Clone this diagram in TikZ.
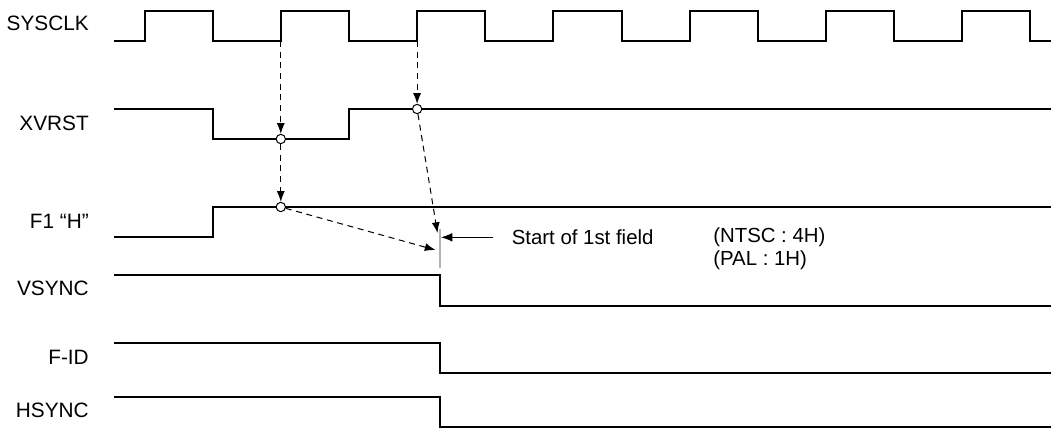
\documentclass[tikz,border=0pt]{standalone}
\usepackage{fontspec}
\setmainfont{Liberation Sans}
\usetikzlibrary{arrows.meta}
\tikzset{
  signal/.style={line width=1.5pt, line join=miter},
  dasharrow/.style={line width=0.75pt, dash pattern=on 4.5pt off 3.5pt, -{Latex[length=8pt,width=6pt]}},
  hollow/.style={circle, draw, line width=0.75pt, fill=white, inner sep=0pt, minimum size=7pt},
  signame/.style={anchor=base east, inner sep=0pt, font=\fontsize{15.6}{18}\selectfont},
  note/.style={anchor=base west, inner sep=0pt, font=\fontsize{15.3}{18}\selectfont}
}
\begin{document}
\begin{tikzpicture}[x=0.75pt, y=-0.75pt]
        \useasboundingbox (0,0) rectangle (1051,428);
        % Nombres de las senales
        \node[signame] (nsysclk) at (89,30.7) {SYSCLK};
        \node[signame] (nxvrst) at (89,130.7) {XVRST};
        \node[signame] (nfone) at (89,228.3) {F1 “H”};
        \node[signame] (nvsync) at (89,295) {VSYNC};
        \node[signame] (nfid) at (89,364) {F-ID};
        \node[signame] (nhsync) at (89,417.3) {HSYNC};
        % Formas de onda
        \draw[signal] (114,41) -- (144.5,41)
            foreach \k in {0,...,5} { -- ++(0,-30) -- ++(68.15,0) -- ++(0,30) -- ++(68.15,0) }
            -- ++(0,-30) -- ++(68.15,0) -- ++(0,30) -- (1051,41);
        \draw[signal] (114,109) -- (212.6,109) -- (212.6,139) -- (348.9,139) -- (348.9,109) -- (1051,109);
        \draw[signal] (114,237) -- (212.6,237) -- (212.6,207) -- (1051,207);
        \draw[signal] (114,275) -- (440,275) -- (440,306) -- (1051,306);
        \draw[signal] (114,343) -- (440,343) -- (440,373) -- (1051,373);
        \draw[signal] (114,397) -- (440,397) -- (440,427) -- (1051,427);
        % Flancos y muestreo
        \coordinate (eone) at (280.8,41);
        \coordinate (etwo) at (417.1,41);
        \coordinate (sone) at (437.5,233);
        \coordinate (stwo) at (435.5,250);
        \node[hollow] (cone) at (280.8,139) {};
        \node[hollow] (ctwo) at (417.1,109) {};
        \node[hollow] (cthree) at (280.8,207) {};
        \draw[dasharrow] (eone) -- (cone);
        \draw[dasharrow] (cone) -- (cthree);
        \draw[dasharrow] (etwo) -- (ctwo);
        \draw[dasharrow] (ctwo) -- (sone);
        \draw[dasharrow] (cthree) -- (stwo);
        % Inicio del campo
        \coordinate (gtop) at (440,229);
        \coordinate (gbot) at (440,268);
        \draw[gray!60, line width=0.9pt] (gtop) -- (gbot);
        \node[note] (start) at (511.5,244.3) {Start of 1st field};
        \coordinate (afrom) at (493,237.3);
        \coordinate (ato) at (441,237.3);
        \draw[line width=0.75pt, -{Latex[length=8.5pt,width=6.5pt]}] (afrom) -- (ato);
        \node[note] (ntsc) at (713,242.7) {(NTSC : 4H)};
        \node[note] (pal) at (713,265.3) {(PAL : 1H)};
\end{tikzpicture}
\end{document}
